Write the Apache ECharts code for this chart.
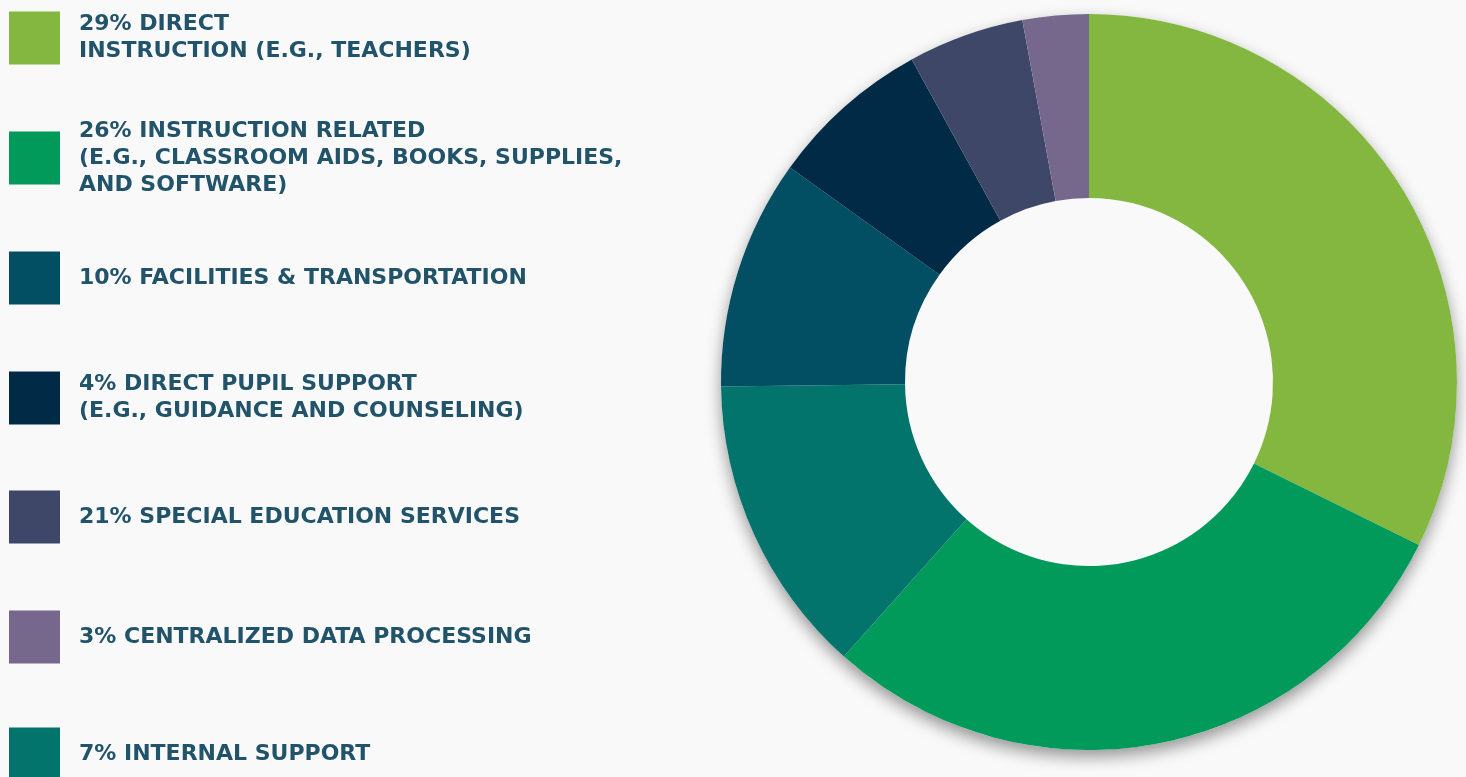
<!DOCTYPE html>
<html>
<head>
<meta charset="utf-8">
<title>Spending breakdown</title>
<script src="https://cdn.jsdelivr.net/npm/echarts@6/dist/echarts.min.js"></script>
<style>
  html, body { margin: 0; padding: 0; background: #f9f9f9; }
  #chart { width: 1466px; height: 777px; }
</style>
</head>
<body>
<div id="chart"></div>
<script>
// slices, in drawing order (clockwise from 12 o'clock)
const categories = [
  'Direct Instruction',
  'Instruction Related',
  'Internal Support',
  'Facilities & Transportation',
  'Direct Pupil Support',
  'Special Education Services',
  'Centralized Data Processing'
];
const sliceValues = [32.3, 29.3, 13.2, 10.1, 7.1, 5.1, 2.9];
const sliceColors = ['#84b740', '#019a5b', '#02746c', '#024e63', '#002a45', '#3f4769', '#76688d'];

// legend, top to bottom, with the text printed beside each swatch
const legendOrder = [
  'Direct Instruction',
  'Instruction Related',
  'Facilities & Transportation',
  'Direct Pupil Support',
  'Special Education Services',
  'Centralized Data Processing',
  'Internal Support'
];
const legendText = [
  '29% DIRECT\nINSTRUCTION (E.G., TEACHERS)',
  '26% INSTRUCTION RELATED\n(E.G., CLASSROOM AIDS, BOOKS, SUPPLIES,\nAND SOFTWARE)',
  '10% FACILITIES & TRANSPORTATION',
  '4% DIRECT PUPIL SUPPORT\n(E.G., GUIDANCE AND COUNSELING)',
  '21% SPECIAL EDUCATION SERVICES',
  '3% CENTRALIZED DATA PROCESSING',
  '7% INTERNAL SUPPORT'
];
const legendCenters = [38, 158, 278, 398, 517, 637, 754];

const chart = echarts.init(document.getElementById('chart'));

const swatchW = 51, swatchH = 53, lineH = 27;

const legends = legendOrder.map((name, i) => {
  const lines = legendText[i].split('\n').length;
  const boxH = Math.max(swatchH, lines * lineH);
  return {
    orient: 'vertical',
    left: 9,
    top: legendCenters[i] - boxH / 2,
    padding: 0,
    data: [name],
    icon: 'rect',
    itemWidth: swatchW,
    itemHeight: swatchH,
    selectedMode: false,
    formatter: () => legendText[i],
    textStyle: {
      color: '#21536a',
      fontFamily: 'DejaVu Sans',
      fontWeight: 'bold',
      fontSize: 22,
      lineHeight: lineH,
      padding: [0, 0, 0, 14]
    }
  };
});

chart.setOption({
  backgroundColor: '#f9f9f9',
  animation: false,
  legend: legends,
  series: [
    {
      // plain disc behind the ring, only there to carry the drop shadow
      type: 'pie',
      silent: true,
      center: [1089, 382],
      radius: [0, 368],
      z: 1,
      label: { show: false },
      legendHoverLink: false,
      itemStyle: {
        color: '#f9f9f9',
        shadowBlur: 16,
        shadowOffsetY: 7,
        shadowColor: 'rgba(0, 0, 0, 0.4)'
      },
      data: [{ value: 1, name: '' }]
    },
    {
      type: 'pie',
      center: [1089, 382],
      radius: [184, 368],
      startAngle: 90,
      clockwise: true,
      z: 2,
      label: { show: false },
      labelLine: { show: false },
      itemStyle: { borderWidth: 0 },
      data: categories.map((name, i) => ({
        name: name,
        value: sliceValues[i],
        itemStyle: { color: sliceColors[i] }
      }))
    }
  ]
});
</script>
</body>
</html>
